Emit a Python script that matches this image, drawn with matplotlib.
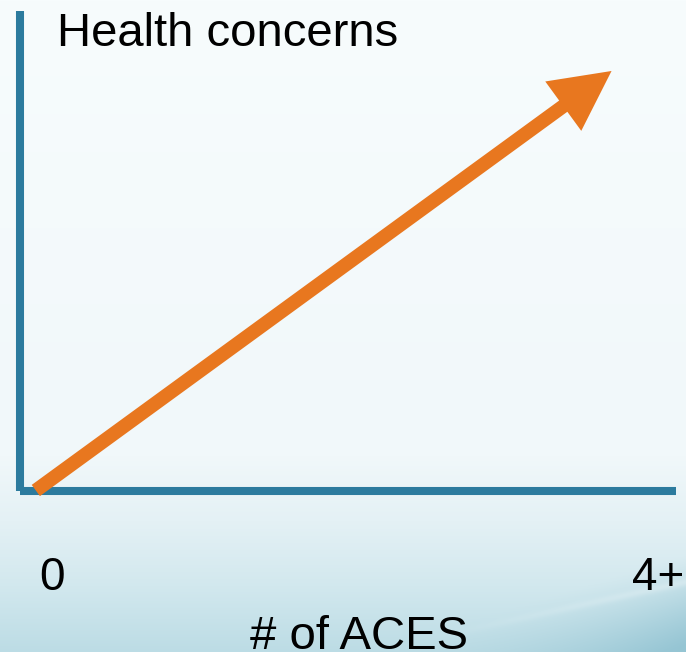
import numpy as np
import matplotlib
matplotlib.use("Agg")
import matplotlib.pyplot as plt
from matplotlib.patches import FancyArrowPatch
from matplotlib.colors import to_rgb

# Conceptual chart: health concerns rise with the number of ACEs
ace_ticks = [0, 4]
ace_labels = ["0", "4+"]
trend_x = [-0.11, 3.69]      # start / end of the trend arrow (ACE axis)
trend_y = [0.0, 1.0]         # relative level of health concerns
x_title = "# of ACES"
y_title = "Health concerns"

AXIS_COLOR = "#2c7b9e"
ARROW_COLOR = "#e8771f"
FONT = ["Liberation Sans", "DejaVu Sans"]

W, H, DPI = 686, 652, 100
fig = plt.figure(figsize=(W / DPI, H / DPI), dpi=DPI)

# Soft pale-blue slide background, darkening toward the bottom
bg = fig.add_axes([0, 0, 1, 1], zorder=-10)
bg.set_axis_off()
yy, xx = np.mgrid[0:H, 0:W].astype(float)
stops_y = [0.0, 0.70, 0.80, 0.90, 1.0]
stops_c = [to_rgb(c) for c in ["#f7fcfd", "#f1f8fa", "#e4f1f5", "#d2e8ee", "#bcdce5"]]
t = yy / (H - 1)
img = np.zeros((H, W, 3))
for k in range(3):
    img[..., k] = np.interp(t, stops_y, [c[k] for c in stops_c])
# soft diagonal wave toward the lower right corner
d = (yy - (652 - (xx - 360) * 0.30)) / 90.0
wave = np.clip(d, 0, 1) ** 1.2 * np.clip((xx - 360) / 326, 0, 1)
dark = np.array(to_rgb("#8bbfcf"))
img = img * (1 - 0.8 * wave[..., None]) + dark * (0.8 * wave[..., None])
# faint light streak inside the wave
streak = np.exp(-((yy - (640 - (xx - 420) * 0.22)) / 4.0) ** 2) * np.clip((xx - 420) / 266, 0, 1)
img = img + (1 - img) * 0.25 * streak[..., None]
bg.imshow(np.clip(img, 0, 1), extent=[0, 1, 0, 1], aspect="auto", origin="upper")
bg.set_xlim(0, 1)
bg.set_ylim(0, 1)

# Main axes: spines form the L-shaped frame
left_px, right_px, bottom_px, top_px = 20, 676, 491, 11
ax = fig.add_axes([left_px / W, (H - bottom_px) / H,
                   (right_px - left_px) / W, (bottom_px - top_px) / H])
ax.patch.set_alpha(0)
for s in ("top", "right"):
    ax.spines[s].set_visible(False)
for s in ("left", "bottom"):
    ax.spines[s].set_color(AXIS_COLOR)
    ax.spines[s].set_linewidth(5.8)
    ax.spines[s].set_capstyle("butt")

ax.set_xlim(-0.2145, 4.1155)
ax.set_ylim(-0.0012, 1.143)
ax.set_xticks(ace_ticks)
ax.set_xticklabels(ace_labels, fontsize=33, family=FONT)
ax.tick_params(axis="x", length=0, pad=47)
ax.set_yticks([])

arrow = FancyArrowPatch((trend_x[0], trend_y[0]), (trend_x[1], trend_y[1]),
                        arrowstyle="simple,head_length=43,head_width=44,tail_width=10",
                        mutation_scale=1, shrinkA=0, shrinkB=0,
                        color=ARROW_COLOR, lw=0, clip_on=False, zorder=5)
ax.add_patch(arrow)

fig.text(57 / W, (H - 46) / H, y_title, fontsize=34, family=FONT,
         ha="left", va="baseline")
fig.text(359 / W, (H - 649) / H, x_title, fontsize=34, family=FONT,
         ha="center", va="baseline")

fig.savefig("out.png", dpi=DPI)
